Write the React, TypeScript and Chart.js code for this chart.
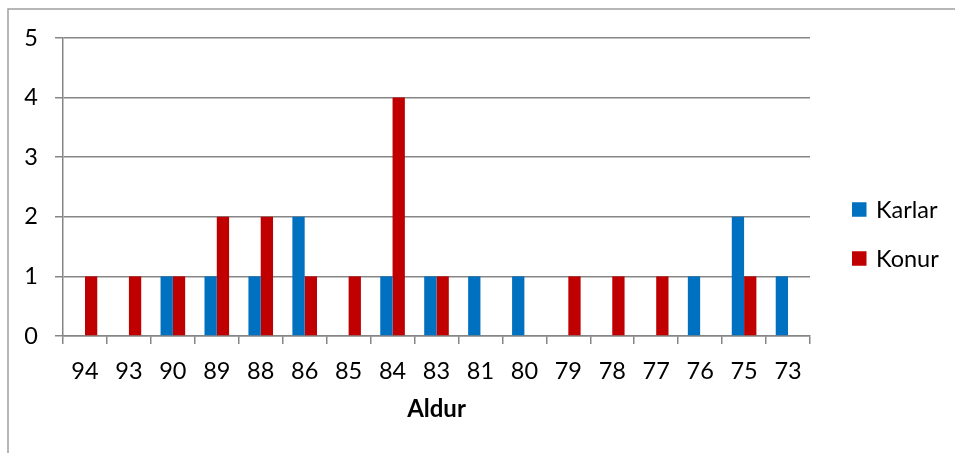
import React, { useEffect, useRef } from "react";
import { Chart, registerables } from "chart.js";

Chart.register(...registerables);

const categories = ["94", "93", "90", "89", "88", "86", "85", "84", "83", "81", "80", "79", "78", "77", "76", "75", "73"];
const karlar = [0, 0, 1, 1, 1, 2, 0, 1, 1, 1, 1, 0, 0, 0, 1, 2, 1];
const konur = [1, 1, 1, 2, 2, 1, 1, 4, 1, 0, 0, 1, 1, 1, 0, 1, 0];
const seriesNames = ["Karlar", "Konur"];
const seriesColors = ["#0070C0", "#C00000"];
const xTitle = "Aldur";

const FONT = "Lato, 'Open Sans', sans-serif";
const GRID = "#868686";

const framePlugin = {
  id: "frame",
  beforeDraw(chart: any) {
    const ctx = chart.ctx;
    ctx.save();
    ctx.fillStyle = "#ffffff";
    ctx.fillRect(0, 0, chart.width, chart.height);
    ctx.strokeStyle = "#a0a0a0";
    ctx.lineWidth = 1.5;
    ctx.strokeRect(8, 9, chart.width + 20, chart.height + 20);
    ctx.restore();
  },
};

const legendPlugin = {
  id: "customLegend",
  afterDraw(chart: any) {
    const ctx = chart.ctx;
    ctx.save();
    ctx.font = `23.5px ${FONT}`;
    ctx.textBaseline = "middle";
    ctx.textAlign = "left";
    const x0 = chart.chartArea.right + 42;
    const yStart = 209.5;
    const gap = 49;
    chart.data.datasets.forEach((ds: any, i: number) => {
      const cy = yStart + i * gap;
      ctx.fillStyle = ds.backgroundColor;
      ctx.fillRect(x0, cy - 7.25, 14.5, 14.5);
      ctx.fillStyle = "#000000";
      ctx.fillText(ds.label, x0 + 24, cy + 1);
    });
    ctx.restore();
  },
};

export default function App() {
  const ref = useRef<HTMLCanvasElement | null>(null);
  useEffect(() => {
    if (!ref.current) return;
    const chart = new Chart(ref.current, {
      type: "bar",
      data: {
        labels: categories,
        datasets: [
          { label: seriesNames[0], data: karlar, backgroundColor: seriesColors[0], borderWidth: 0 },
          { label: seriesNames[1], data: konur, backgroundColor: seriesColors[1], borderWidth: 0 },
        ],
      },
      options: {
        animation: false,
        responsive: false,
        maintainAspectRatio: false,
        layout: { padding: { top: 38, right: 145, bottom: 0, left: 0 } },
        plugins: {
          legend: { display: false },
          tooltip: { enabled: false },
        },
        datasets: { bar: { categoryPercentage: 0.56, barPercentage: 1 } },
        scales: {
          x: {
            grid: { drawOnChartArea: false, drawTicks: true, tickLength: 8, color: GRID, lineWidth: 1.5 },
            border: { display: true, color: GRID, width: 1.5 },
            ticks: { color: "#000", font: { family: FONT, size: 23.5 }, padding: 13, maxRotation: 0, autoSkip: false },
            title: {
              display: true,
              text: xTitle,
              color: "#000",
              font: { family: FONT, size: 24, weight: "bold" },
              padding: { top: 0, bottom: 29 },
            },
            afterFit: (s: any) => { s.height = 117; },
          },
          y: {
            min: 0,
            max: 5,
            grid: { color: GRID, lineWidth: 1.5, tickLength: 8, drawTicks: true },
            border: { display: true, color: GRID, width: 1.5 },
            ticks: { stepSize: 1, color: "#000", font: { family: FONT, size: 23.5 }, padding: 17 },
            afterFit: (s: any) => { s.width = 63; },
          },
        },
      },
      plugins: [framePlugin, legendPlugin],
    });
    return () => chart.destroy();
  }, []);
  return (
    <div style={{ position: "absolute", left: 0, top: 0, width: 955, height: 453 }}>
      <canvas ref={ref} width={955} height={453} style={{ display: "block" }} />
    </div>
  );
}
